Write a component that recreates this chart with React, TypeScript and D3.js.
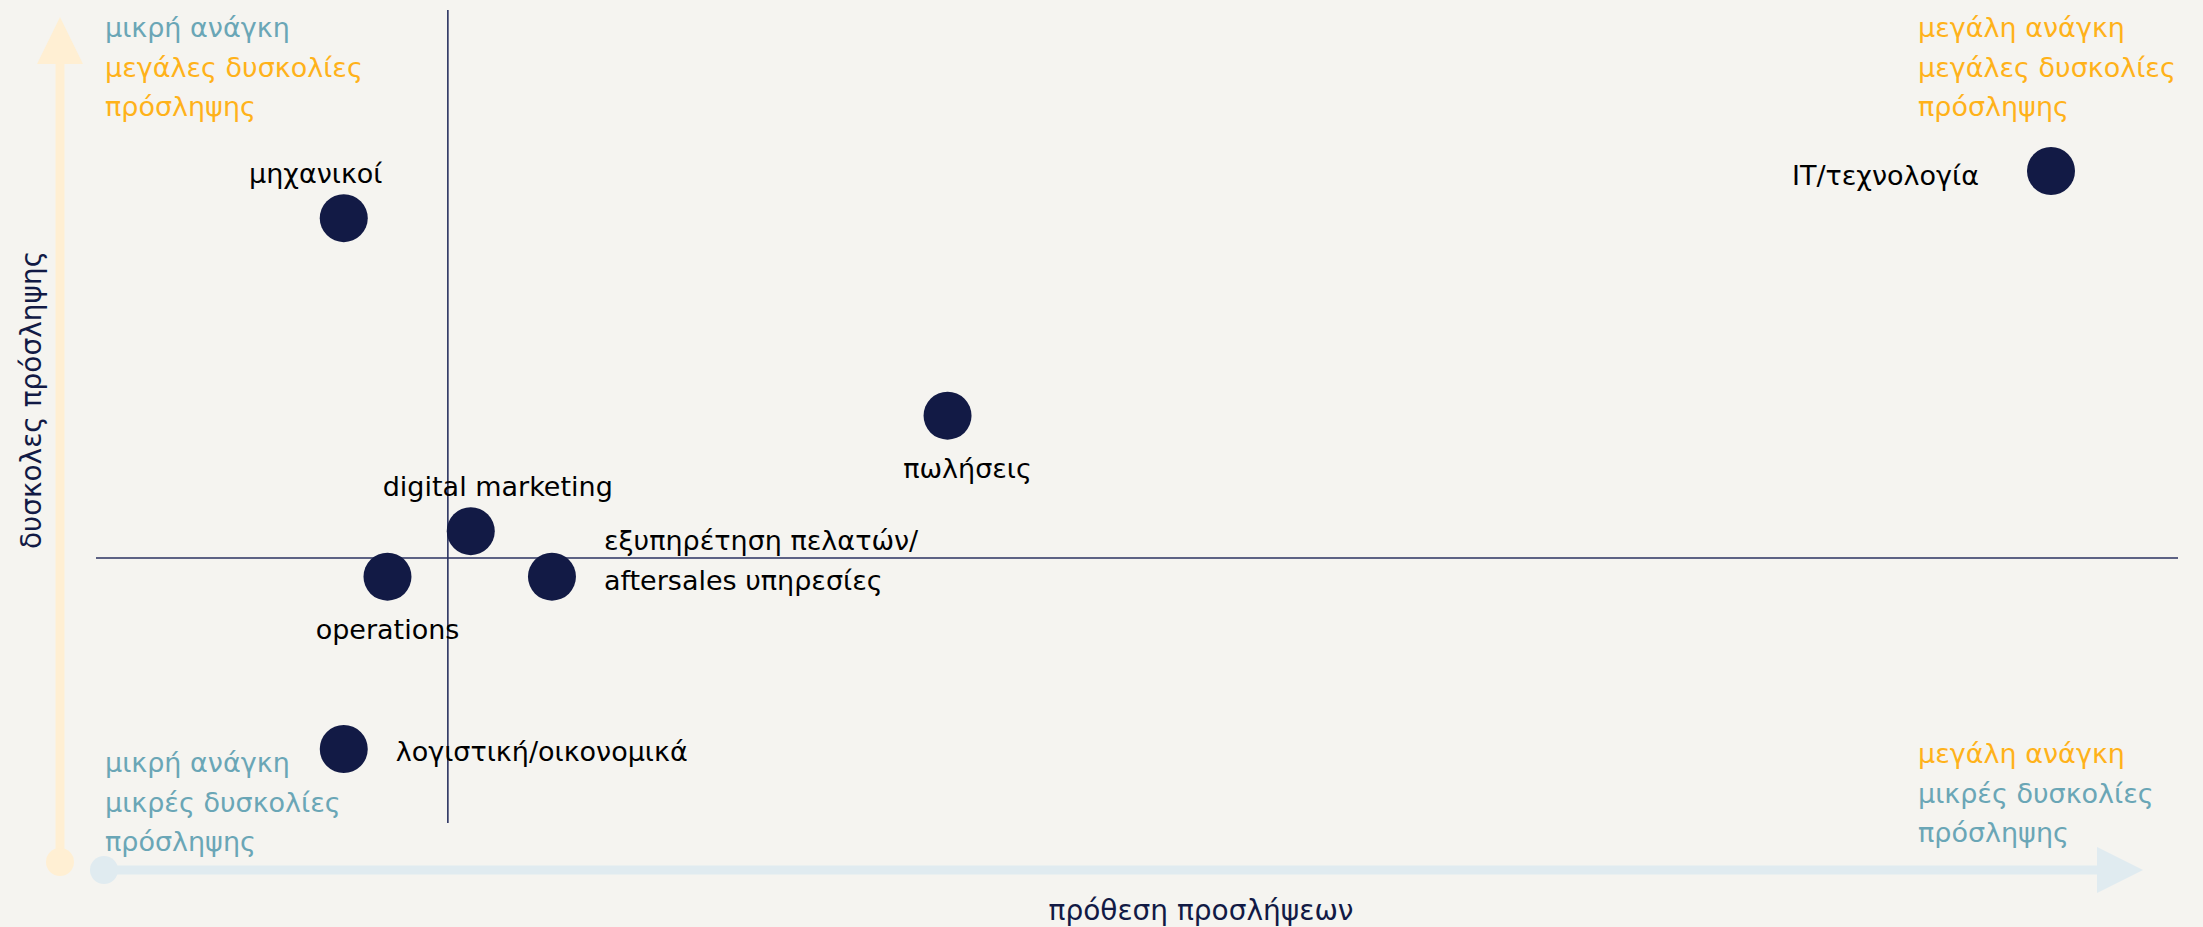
import React from "react";
import * as d3 from "d3";

// roles: hiring intention (x) vs hiring difficulty (y), scores 0-100
const roles = [
  "μηχανικοί",
  "IT/τεχνολογία",
  "πωλήσεις",
  "digital marketing",
  "operations",
  "εξυπηρέτηση πελατών/\naftersales υπηρεσίες",
  "λογιστική/οικονομικά",
];
const intention = [11.9, 93.9, 40.9, 18.0, 14.0, 21.9, 11.9];
const difficulty = [74.4, 80.2, 50.1, 35.9, 30.3, 30.3, 9.1];
// where each label sits relative to its dot
const labelSide = ["above", "left", "below", "above", "below", "right", "right"];

const xDivider = 16.9;
const yDivider = 32.6;

const xTitle = "πρόθεση προσλήψεων";
const yTitle = "δυσκολες πρόσληψης";

const corners = [
  { pos: "tl", lines: ["μικρή ανάγκη", "μεγάλες δυσκολίες", "πρόσληψης"], tone: ["low", "high", "high"] },
  { pos: "tr", lines: ["μεγάλη ανάγκη", "μεγάλες δυσκολίες", "πρόσληψης"], tone: ["high", "high", "high"] },
  { pos: "bl", lines: ["μικρή ανάγκη", "μικρές δυσκολίες", "πρόσληψης"], tone: ["low", "low", "low"] },
  { pos: "br", lines: ["μεγάλη ανάγκη", "μικρές δυσκολίες", "πρόσληψης"], tone: ["high", "low", "low"] },
];

const W = 2203;
const H = 927;
const FONT = "Verdana, 'DejaVu Sans', sans-serif";
const navy = "#121A45";
const teal = "#6AA6B6";
const orange = "#FFB21A";

export default function App() {
  const x = d3.scaleLinear().domain([0, 100]).range([96, 2178]);
  const y = d3.scaleLinear().domain([0, 100]).range([823, 10]);
  const r = 24;

  const cornerPos: Record<string, { x: number; y: number }> = {
    tl: { x: 105, y: 37 },
    tr: { x: 1918, y: 37 },
    bl: { x: 105, y: 772 },
    br: { x: 1918, y: 763 },
  };

  return (
    <div style={{ position: "absolute", left: 0, top: 0 }}>
      <svg width={W} height={H} style={{ display: "block", fontFamily: FONT }}>
        <rect width={W} height={H} fill="#F5F4F0" />

        {/* y arrow */}
        <line x1={60} x2={60} y1={862} y2={50} stroke="#FFEFD3" strokeWidth={9} />
        <path d="M60,17 L37,64 L83,64 Z" fill="#FFEFD3" />
        <circle cx={60} cy={862} r={14} fill="#FFEFD3" />

        {/* x arrow */}
        <line x1={104} x2={2110} y1={870} y2={870} stroke="#E0EBF0" strokeWidth={9} />
        <path d="M2143,870 L2097,847 L2097,893 Z" fill="#E0EBF0" />
        <circle cx={104} cy={870} r={14} fill="#E0EBF0" />

        {/* quadrant dividers */}
        <line x1={x(xDivider)} x2={x(xDivider)} y1={y(100)} y2={y(0)} stroke="#2A3260" strokeWidth={1.6} />
        <line x1={x(0)} x2={x(100)} y1={y(yDivider)} y2={y(yDivider)} stroke="#2A3260" strokeWidth={1.6} />

        {/* corner notes */}
        {corners.map((c) => (
          <text key={c.pos} x={cornerPos[c.pos].x} y={cornerPos[c.pos].y} fontSize={27}>
            {c.lines.map((l, i) => (
              <tspan key={i} x={cornerPos[c.pos].x} dy={i === 0 ? 0 : 39.5} fill={c.tone[i] === "high" ? orange : teal}>
                {l}
              </tspan>
            ))}
          </text>
        ))}

        {/* points */}
        {roles.map((name, i) => {
          const cx = x(intention[i]);
          const cy = y(difficulty[i]);
          const side = labelSide[i];
          const lines = name.split("\n");
          let tx = cx;
          let ty = cy;
          let anchor = "middle";
          if (side === "above") {
            ty = cy - 35;
            tx = cx + (i === 0 ? -28 : 27);
          } else if (side === "below") {
            ty = cy + 62;
            tx = cx + (i === 2 ? 20 : 0);
          } else if (side === "left") {
            tx = cx - 72;
            ty = cy + 14;
            anchor = "end";
          } else {
            tx = cx + 52;
            ty = lines.length > 1 ? cy - 27 : cy + 12;
            anchor = "start";
          }
          return (
            <g key={name}>
              <circle cx={cx} cy={cy} r={r} fill={navy} />
              <text x={tx} y={ty} textAnchor={anchor} fontSize={27} fill="#000">
                {lines.map((l, j) => (
                  <tspan key={j} x={tx} dy={j === 0 ? 0 : 40}>
                    {l}
                  </tspan>
                ))}
              </text>
            </g>
          );
        })}

        {/* axis titles */}
        <text x={1201} y={920} textAnchor="middle" fontSize={28} fill={navy}>
          {xTitle}
        </text>
        <text
          transform={`translate(41,400) rotate(-90)`}
          textAnchor="middle"
          fontSize={28}
          fill={navy}
        >
          {yTitle}
        </text>
      </svg>
    </div>
  );
}
